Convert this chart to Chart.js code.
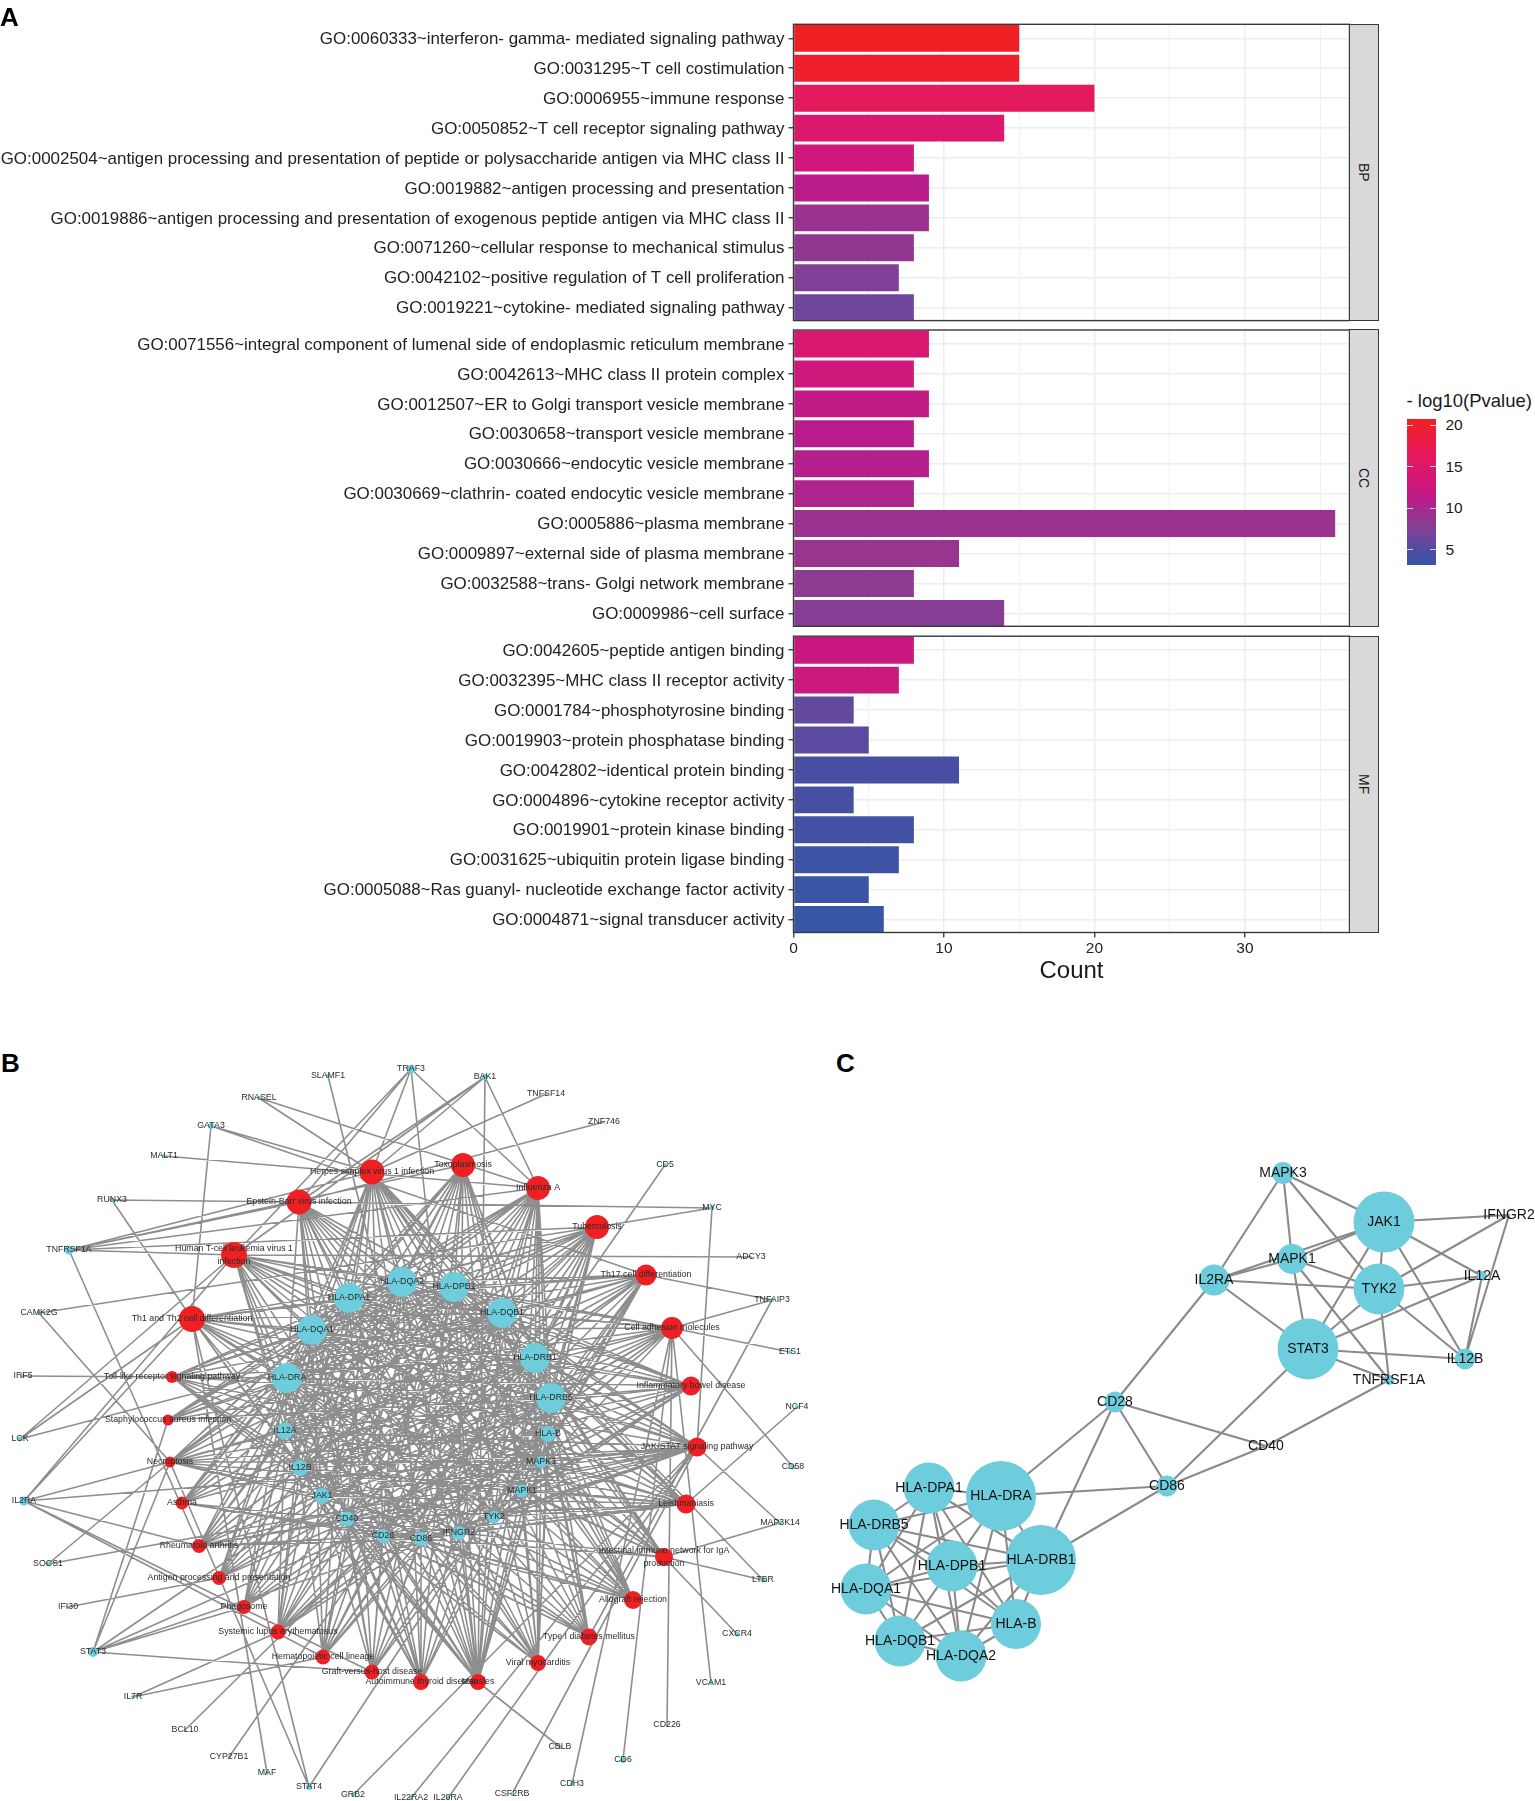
<!DOCTYPE html>
<html><head><meta charset="utf-8">
<script src="https://cdn.jsdelivr.net/npm/chart.js@4"></script>
<style>
html,body{margin:0;padding:0;background:#fff}
#page{position:relative;width:1535px;height:1801px;overflow:hidden;font-family:"Liberation Sans",Arial,sans-serif;background:#fff}
canvas{position:absolute;display:block}
.tag{position:absolute;font-weight:bold;font-size:26px;line-height:26px;color:#000}
.strip{position:absolute;box-sizing:border-box;background:#D9D9D9;border:1.4px solid #3a3a3a;display:flex;align-items:center;justify-content:center;font-size:14px;color:#1a1a1a;writing-mode:vertical-rl}
.t{position:absolute;white-space:nowrap;color:#1a1a1a}
</style></head><body><div id="page"></div>
<script>
// ---------- Panel A data ----------
const bpLabels=["GO:0060333~interferon- gamma- mediated signaling pathway","GO:0031295~T cell costimulation","GO:0006955~immune response","GO:0050852~T cell receptor signaling pathway","GO:0002504~antigen processing and presentation of peptide or polysaccharide antigen via MHC class II","GO:0019882~antigen processing and presentation","GO:0019886~antigen processing and presentation of exogenous peptide antigen via MHC class II","GO:0071260~cellular response to mechanical stimulus","GO:0042102~positive regulation of T cell proliferation","GO:0019221~cytokine- mediated signaling pathway"];
const bpCounts=[15,15,20,14,8,9,9,8,7,8];
const bpLogP=[20.8,20.3,16.5,14.6,12.8,11,9.2,8.6,7.5,6.6];
const ccLabels=["GO:0071556~integral component of lumenal side of endoplasmic reticulum membrane","GO:0042613~MHC class II protein complex","GO:0012507~ER to Golgi transport vesicle membrane","GO:0030658~transport vesicle membrane","GO:0030666~endocytic vesicle membrane","GO:0030669~clathrin- coated endocytic vesicle membrane","GO:0005886~plasma membrane","GO:0009897~external side of plasma membrane","GO:0032588~trans- Golgi network membrane","GO:0009986~cell surface"];
const ccCounts=[9,8,9,8,9,8,36,11,8,14];
const ccLogP=[14.2,12.8,11.8,11,10.7,10.4,9.2,9,8.3,7.9];
const mfLabels=["GO:0042605~peptide antigen binding","GO:0032395~MHC class II receptor activity","GO:0001784~phosphotyrosine binding","GO:0019903~protein phosphatase binding","GO:0042802~identical protein binding","GO:0004896~cytokine receptor activity","GO:0019901~protein kinase binding","GO:0031625~ubiquitin protein ligase binding","GO:0005088~Ras guanyl- nucleotide exchange factor activity","GO:0004871~signal transducer activity"];
const mfCounts=[8,7,4,5,11,4,8,7,5,6];
const mfLogP=[12.3,12.4,6,5.6,4.5,4.4,4,3.7,3.4,3.2];
const stripNames=["BP","CC","MF"];
const legendTitle="- log10(Pvalue)";
const legendTicks=[5,10,15,20];
const colorStops=[[3.14,"#3756A6"],[5,"#4E4CA2"],[7,"#78449A"],[9,"#99348F"],[11,"#B81C8A"],[13,"#D1167A"],[15,"#DD186A"],[17,"#E71A58"],[19,"#EC1E3A"],[20.8,"#EF2024"]];

// ---------- Panel B data ----------
const pathIds=["HSV","TOXO","FLU","EBV","TB","TH17","HTLV","TH12","CAM","TLR","IBD","STAPH","JAKSTAT","NECRO","ASTH","LEISH","RA","IGA","APP","PHAG","ALLO","SLE","T1D","HEM","VMC","GVHD","AITD","MEAS"];
const pathNames=["Herpes simplex virus 1 infection","Toxoplasmosis","Influenza A","Epstein-Barr virus infection","Tuberculosis","Th17 cell differentiation","Human T-cell leukemia virus 1\ninfection","Th1 and Th2 cell differentiation","Cell adhesion molecules","Toll-like receptor signaling pathway","Inflammatory bowel disease","Staphylococcus aureus infection","JAK-STAT signaling pathway","Necroptosis","Asthma","Leishmaniasis","Rheumatoid arthritis","Intestinal immune network for IgA\nproduction","Antigen processing and presentation","Phagosome","Allograft rejection","Systemic lupus erythematosus","Type I diabetes mellitus","Hematopoietic cell lineage","Viral myocarditis","Graft-versus-host disease","Autoimmune thyroid disease","Measles"];
const pathX=[372,463,538,299,597,646,234,192,672,172,691,168,697,170,182,686,199,664,219,244,633,278,589,323,538,372,421,478];
const pathY=[1172,1165,1188,1202,1227,1275,1255,1319,1328,1377,1386,1420,1447,1462,1503,1504,1546,1557,1578,1607,1600,1632,1637,1657,1663,1672,1682,1682];
const pathSize=[12.5,12,12,12.5,12,10.5,13,13,11,6,9.5,5.5,9.5,5.5,6.5,9.5,7,9,7,7,9,7.5,8.5,7.5,8,7.5,8,8];
const geneNames=["HLA-DPA1","HLA-DQA1","HLA-DRA","HLA-DQA2","HLA-DPB1","HLA-DQB1","HLA-DRB1","HLA-DRB5","HLA-B","MAPK3","MAPK1","TYK2","IFNGR2","CD86","CD28","CD40","JAK1","IL12B","IL12A","SLAMF1","TRAF3","BAK1","TNFSF14","ZNF746","RNASEL","GATA3","MALT1","RUNX3","TNFRSF1A","CAMK2G","IRF5","LCK","IL2RA","SOCS1","IFI30","STAT3","IL7R","BCL10","CYP27B1","MAF","STAT4","GRB2","IL22RA2","IL20RA","CSF2RB","CDH3","CBLB","CD6","CD226","VCAM1","CXCR4","LTBR","MAP3K14","CD58","NCF4","ETS1","TNFAIP3","ADCY3","MYC","CD5"];
const geneX=[349,312,287,402,454,502,535,551,548,541,522,494,459,421,383,347,322,300,285,328,411,485,546,604,259,211,164,112,69,39,23,20,24,48,68,93,133,185,229,267,309,353,411,448,512,572,560,623,667,711,737,763,780,793,797,790,772,751,712,665];
const geneY=[1298,1330,1378,1282,1287,1313,1358,1398,1434,1462,1491,1517,1533,1539,1536,1519,1496,1468,1431,1076,1069,1077,1094,1122,1098,1126,1156,1200,1250,1313,1376,1439,1501,1564,1607,1652,1697,1730,1757,1773,1787,1795,1798,1798,1794,1784,1747,1760,1725,1683,1634,1580,1523,1467,1407,1352,1300,1257,1208,1165];
const geneSize=[15,15,15,15,15,15,15,15,8,6,6.5,6.5,7,7,7,7.5,8,8,8.5,2,4,3,1.5,1.5,2,3,2,2.5,4.5,2,2,2.5,4.5,2.5,1.5,5,2,1.5,1.5,2,3,2,2,2,2,2,2,3,1.5,2,2.5,2.5,2,2.5,2,2,2,1.5,2.5,2];
const mhcPaths="HSV TOXO FLU EBV TB TH17 HTLV TH12 CAM STAPH ASTH LEISH RA IGA APP PHAG ALLO SLE T1D HEM VMC GVHD AITD IBD TLR MEAS JAKSTAT NECRO";
const mapkPaths="TLR TOXO FLU EBV HTLV TB TH17 TH12 LEISH HSV MEAS JAKSTAT RA VMC IBD NECRO IGA ALLO";
const cytoPaths="TOXO TB LEISH TH12 TH17 TLR IBD JAKSTAT RA ALLO T1D MEAS HTLV FLU HSV SLE CAM AITD";
const jakPaths="HSV TOXO FLU MEAS EBV HTLV TH12 TH17 IBD JAKSTAT NECRO TB LEISH CAM";
const costimPaths="CAM ALLO GVHD T1D AITD IGA RA VMC SLE MEAS ASTH TLR TOXO HTLV EBV TB HSV LEISH HEM JAKSTAT FLU";
const links=[
["HLA-DPA1",mhcPaths],["HLA-DQA1",mhcPaths],["HLA-DRA",mhcPaths],["HLA-DQA2",mhcPaths],["HLA-DPB1",mhcPaths],["HLA-DQB1",mhcPaths],["HLA-DRB1",mhcPaths],["HLA-DRB5",mhcPaths],
["HLA-B","HSV FLU EBV HTLV CAM APP PHAG ALLO GVHD T1D VMC AITD MEAS TB TOXO SLE NECRO"],
["MAPK3",mapkPaths],["MAPK1",mapkPaths],["TYK2",jakPaths],["IFNGR2","TOXO TB LEISH FLU HSV MEAS TH12 TH17 IBD JAKSTAT NECRO VMC EBV"],
["CD86",costimPaths],["CD28",costimPaths],["CD40",costimPaths],["JAK1",jakPaths],["IL12B",cytoPaths],["IL12A",cytoPaths],
["SLAMF1","MEAS"],["TRAF3","EBV HSV FLU MEAS HTLV"],["BAK1","FLU MEAS HTLV EBV HSV"],["TNFSF14","HSV"],["ZNF746","EBV"],["RNASEL","FLU HSV"],["GATA3","TH12 TH17 HSV"],["MALT1","FLU"],["RUNX3","EBV TH12"],
["TNFRSF1A","EBV HSV FLU HTLV TOXO TB RA"],["CAMK2G","TB NECRO"],["IRF5","TLR"],["LCK","TH12 HTLV TH17"],["IL2RA","HTLV TH12 CAM JAKSTAT HEM GVHD RA"],["SOCS1","NECRO JAKSTAT"],["IFI30","APP"],
["STAT3","NECRO STAPH TH17 JAKSTAT IBD GVHD PHAG"],["IL7R","SLE HEM"],["BCL10","TH17"],["CYP27B1","TB"],["MAF","TH12"],["STAT4","TH12 NECRO TH17"],["GRB2","JAKSTAT"],["IL22RA2","JAKSTAT"],["IL20RA","JAKSTAT"],["CSF2RB","JAKSTAT"],["CDH3","CAM"],["CBLB","MEAS"],["CD6","CAM"],["CD226","CAM"],["VCAM1","CAM"],["CXCR4","IGA"],["LTBR","IGA HSV"],["MAP3K14","IGA JAKSTAT"],["CD58","CAM"],["NCF4","LEISH"],["ETS1","CAM"],["TNFAIP3","CAM TH17 T1D"],["ADCY3","HTLV"],["MYC","TB EBV JAKSTAT"],["CD5","HEM"]
];

// ---------- Panel C data ----------
const hubNames=["MAPK3","JAK1","IFNGR2","MAPK1","IL2RA","TYK2","IL12A","STAT3","IL12B","TNFRSF1A","CD28","CD40","CD86","HLA-DPA1","HLA-DRA","HLA-DRB5","HLA-DRB1","HLA-DPB1","HLA-DQA1","HLA-B","HLA-DQB1","HLA-DQA2"];
const hubX=[1283,1384,1509,1292,1214,1379,1482,1308,1465,1389,1115,1266,1167,929,1001,874,1041,952,866,1016,900,961];
const hubY=[1173,1222,1215,1259,1280,1289,1276,1349,1359,1380,1402,1446,1486,1488,1496,1525,1560,1566,1589,1624,1641,1656];
const hubSize=[11,30.5,1.5,15,15.4,25.4,5,30.4,10.4,5,10.5,1,10.5,25.4,35,25.5,35,25.5,25.5,25,25.5,25.5];
const hubLinks=[["MAPK3","IL2RA MAPK1 JAK1 TYK2"],["JAK1","IFNGR2 MAPK1 IL2RA TYK2 IL12A IL12B STAT3"],["IFNGR2","TYK2 IL12B"],["MAPK1","IL2RA TYK2 STAT3 TNFRSF1A"],["IL2RA","TYK2 STAT3 CD28"],["TYK2","IL12A STAT3 IL12B TNFRSF1A"],["IL12A","STAT3 IL12B"],["STAT3","IL12B TNFRSF1A CD86"],["TNFRSF1A","CD40"],["CD28","CD40 CD86 HLA-DRA HLA-DRB1"],["CD86","CD40 HLA-DRA HLA-DRB1"],
["HLA-DPA1","HLA-DRA HLA-DRB5 HLA-DRB1 HLA-DPB1 HLA-DQA1 HLA-B HLA-DQB1 HLA-DQA2"],["HLA-DRA","HLA-DRB5 HLA-DRB1 HLA-DPB1 HLA-DQA1 HLA-B HLA-DQB1 HLA-DQA2"],["HLA-DRB5","HLA-DRB1 HLA-DPB1 HLA-DQA1 HLA-B HLA-DQB1 HLA-DQA2"],["HLA-DRB1","HLA-DPB1 HLA-DQA1 HLA-B HLA-DQB1 HLA-DQA2"],["HLA-DPB1","HLA-DQA1 HLA-B HLA-DQB1 HLA-DQA2"],["HLA-DQA1","HLA-B HLA-DQB1 HLA-DQA2"],["HLA-B","HLA-DQB1 HLA-DQA2"],["HLA-DQB1","HLA-DQA2"]];

// ---------- helpers ----------
const page=document.getElementById('page');
const FONT='"Liberation Sans",Arial,sans-serif';
const hex=h=>[1,3,5].map(i=>parseInt(h.substr(i,2),16));
function colorFor(v){
  for(let i=1;i<colorStops.length;i++){
    if(v<=colorStops[i][0]){
      const [a,ca]=colorStops[i-1],[b,cb]=colorStops[i];
      const t=Math.max(0,(v-a)/(b-a)),A=hex(ca),B=hex(cb);
      return `rgb(${A.map((x,k)=>Math.round(x+(B[k]-x)*t)).join(',')})`;
    }
  }
  return colorStops[colorStops.length-1][1];
}
function addCanvas(l,t,w,h){
  const c=document.createElement('canvas');c.width=w;c.height=h;
  c.style.left=l+'px';c.style.top=t+'px';c.style.width=w+'px';c.style.height=h+'px';
  page.appendChild(c);return c;
}
function addText(txt,l,t,size,extra){
  const d=document.createElement('div');d.className='t';d.textContent=txt;
  d.style.cssText+=`left:${l}px;top:${t}px;font-size:${size}px;line-height:${size}px;`+(extra||'');
  page.appendChild(d);return d;
}
const framePlugin={id:'frame',afterDraw(ch){
  const a=ch.chartArea,c=ch.ctx;c.save();c.strokeStyle='#3a3a3a';c.lineWidth=1.4;
  c.strokeRect(a.left,a.top,a.right-a.left,a.bottom-a.top);c.restore();
}};

// ---------- Panel A ----------
const panelLeft=793.5,panelRight=1349.5,panelH=296.3;
function barPanel(labels,counts,logp,top,name,showAxis){
  const cTop=Math.floor(top)-4,axisH=showAxis?30:0,cH=Math.ceil(panelH+axisH+10);
  const cv=addCanvas(0,cTop,1351,cH);
  new Chart(cv,{type:'bar',
    data:{labels:labels,datasets:[{label:name,data:counts.map((v,i)=>({x:v,y:i})),
      backgroundColor:logp.map(colorFor),borderWidth:0,categoryPercentage:1,barPercentage:0.9}]},
    options:{indexAxis:'y',responsive:false,animation:false,
      layout:{autoPadding:false,padding:{top:top-cTop,bottom:cH-(top-cTop)-panelH-axisH,left:0,right:1351-panelRight}},
      plugins:{legend:{display:false},tooltip:{enabled:false}},
      scales:{
        x:{type:'linear',min:0,max:36.95,offset:false,
          afterFit(s){s.height=axisH;s.paddingLeft=0;s.paddingRight=0},
          grid:{offset:false,color:'#EDEDED',lineWidth:c=>c.tick.value%10===0?1.5:0.8,drawTicks:showAxis,tickLength:5,tickWidth:1.3,
                tickColor:c=>c.tick.value%10===0?'#333':'rgba(0,0,0,0)'},
          border:{display:false},
          ticks:{display:showAxis,stepSize:5,includeBounds:false,autoSkip:false,maxRotation:0,padding:2,color:'#222',
                 font:{family:FONT,size:15.5},callback:v=>v%10===0?String(v):''}},
        y:{type:'linear',min:-0.468,max:9.432,reverse:true,offset:false,
          afterBuildTicks(s){s.ticks=labels.map((_,i)=>({value:i}))},
          afterFit(s){s.width=panelLeft;s.paddingTop=0;s.paddingBottom=0},
          grid:{offset:false,color:'#EDEDED',lineWidth:1.5,tickLength:5,tickWidth:1.3,tickColor:'#333'},
          border:{display:false},
          ticks:{autoSkip:false,padding:4,labelOffset:1,color:'#222',font:{family:FONT,size:16.95},callback:v=>labels[v]}}
      }},plugins:[framePlugin]});
  const s=document.createElement('div');s.className='strip';s.textContent=name;
  s.style.cssText+=`left:${panelRight-0.7}px;top:${top-0.7}px;width:${1378.5-panelRight+1.4}px;height:${panelH+1.4}px;`;
  page.appendChild(s);
}
barPanel(bpLabels,bpCounts,bpLogP,24.3,stripNames[0],false);
barPanel(ccLabels,ccCounts,ccLogP,330,stripNames[1],false);
barPanel(mfLabels,mfCounts,mfLogP,636.2,stripNames[2],true);
const countTitle=addText("Count",panelLeft,958,24,`width:${panelRight-panelLeft}px;text-align:center;`);

// legend
const lgTop=418.7,lgBot=565,lgMin=3.14,lgMax=20.8;
const lgY=v=>lgBot-(v-lgMin)/(lgMax-lgMin)*(lgBot-lgTop);
addText(legendTitle,1406.5,392,18.5);
const bar=document.createElement('div');
bar.style.cssText=`position:absolute;left:1406.5px;top:${lgTop}px;width:29.5px;height:${lgBot-lgTop}px;background:linear-gradient(to top,${colorStops.map(s=>`${s[1]} ${((s[0]-lgMin)/(lgMax-lgMin)*100).toFixed(1)}%`).join(',')});`;
page.appendChild(bar);
legendTicks.forEach(v=>{
  const y=lgY(v);
  [[1406.5,6],[1430,6]].forEach(([l,w])=>{const k=document.createElement('div');
    k.style.cssText=`position:absolute;left:${l}px;top:${y-0.5}px;width:${w}px;height:1px;background:rgba(255,255,255,.75);`;page.appendChild(k);});
  addText(String(v),1445.5,y-8,15.5);
});
[["A",0,4],["B",1,1050],["C",836,1050]].forEach(([t,l,tp])=>{const d=document.createElement('div');d.className='tag';d.textContent=t;d.style.left=l+'px';d.style.top=tp+'px';page.appendChild(d);});

// ---------- Networks ----------
function network(l,t,w,h,names,xs,ys,sizes,colors,edges,fontSize,edgeWidth,edgeColor,labelColor){
  const cv=addCanvas(l,t,w,h);
  const idx=Object.fromEntries(names.map((n,i)=>[n,i]));
  const seg=[];
  edges.forEach(([a,b])=>{const i=idx[a],j=idx[b];
    seg.push({x:xs[i],y:ys[i]},{x:xs[j],y:ys[j]},{x:null,y:null});});
  const labelPlugin={id:'nodeLabels',afterDatasetsDraw(ch){
    const c=ch.ctx,X=ch.scales.x,Y=ch.scales.y;c.save();
    c.font=`${fontSize}px ${FONT}`;c.fillStyle=labelColor;c.textAlign='center';c.textBaseline='middle';
    names.forEach((n,i)=>{const parts=n.split('\n'),lh=fontSize*1.45;
      parts.forEach((p,k)=>c.fillText(p,X.getPixelForValue(xs[i]),Y.getPixelForValue(ys[i])+(k-(parts.length-1)/2)*lh));});
    c.restore();}};
  new Chart(cv,{type:'scatter',
    data:{datasets:[
      {label:'nodes',order:0,data:xs.map((x,i)=>({x,y:ys[i]})),pointRadius:sizes,pointHoverRadius:sizes,
       pointBackgroundColor:colors,pointBorderWidth:0,showLine:false,clip:false},
      {label:'edges',order:1,data:seg,showLine:true,borderColor:edgeColor,borderWidth:edgeWidth,pointRadius:0,spanGaps:false,tension:0}
    ]},
    options:{responsive:false,animation:false,layout:{autoPadding:false,padding:0},
      plugins:{legend:{display:false},tooltip:{enabled:false}},
      scales:{x:{type:'linear',min:l,max:l+w,display:false},y:{type:'linear',min:t,max:t+h,reverse:true,display:false}}},
    plugins:[labelPlugin]});
}
const RED='#EE2024',BLUE='#6DCDDD';
const bEdges=[];
links.forEach(([g,ps])=>ps.split(' ').forEach(p=>bEdges.push([g,pathNames[pathIds.indexOf(p)]])));
network(0,1040,825,761,pathNames.concat(geneNames),pathX.concat(geneX),pathY.concat(geneY),pathSize.concat(geneSize),
  pathNames.map(()=>RED).concat(geneNames.map(()=>BLUE)),bEdges,8.8,1.6,'#8E8E8E','#2b2b2b');
const cEdges=[];
hubLinks.forEach(([a,bs])=>bs.split(' ').forEach(b=>cEdges.push([a,b])));
network(825,1120,710,600,hubNames,hubX,hubY,hubSize,hubNames.map(()=>BLUE),cEdges,14,2.1,'#8A8A8A','#111');
</script></body></html>
